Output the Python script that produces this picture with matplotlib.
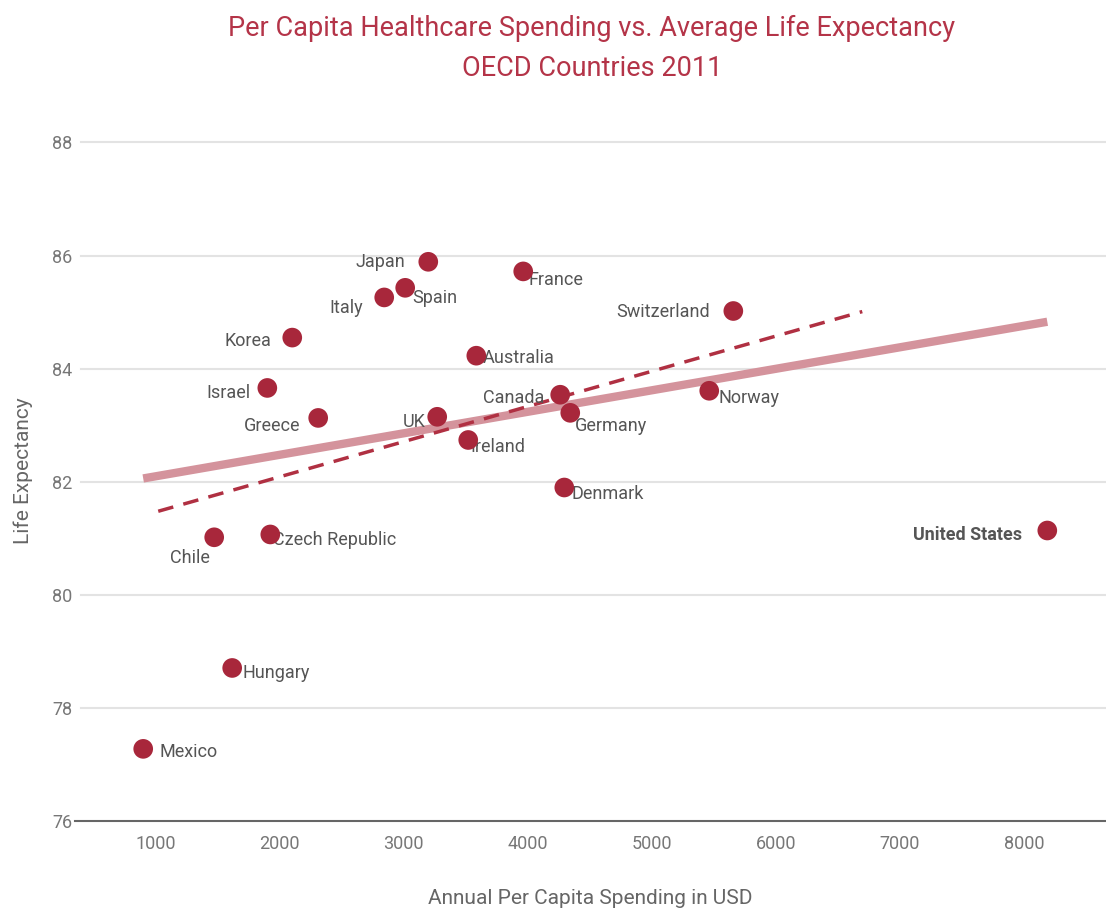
import matplotlib
matplotlib.use("Agg")
import matplotlib.pyplot as plt
from matplotlib import font_manager

# 国家与数据 (人均医疗支出 USD, 平均寿命)
countries = ["Mexico", "Chile", "Hungary", "Czech Republic", "Israel", "Korea",
             "Greece", "Italy", "Spain", "Japan", "UK", "Ireland", "Australia",
             "France", "Canada", "Germany", "Denmark", "Norway", "Switzerland",
             "United States"]
spending = [903, 1475, 1620, 1927, 1903, 2104, 2313, 2845, 3014, 3200, 3272,
            3522, 3587, 3965, 4263, 4344, 4296, 5464, 5658, 8188]
life_exp = [77.28, 81.02, 78.71, 81.07, 83.66, 84.55, 83.13, 85.26, 85.43,
            85.89, 83.15, 82.74, 84.23, 85.72, 83.54, 83.22, 81.90, 83.61,
            85.02, 81.14]

# 趋势线端点
trend_all_x = [903, 8188]
trend_all_y = [82.06, 84.83]
trend_sub_x = [1024, 6697]
trend_sub_y = [81.48, 85.01]

x_ticks = [1000, 2000, 3000, 4000, 5000, 6000, 7000, 8000]
y_ticks = [76, 78, 80, 82, 84, 86, 88]

# 标签相对点的偏移(像素)和对齐方式
label_pos = {
    "Mexico": (16, -3, "left"), "Chile": (-4, -21, "right"),
    "Hungary": (10, -5, "left"), "Czech Republic": (3, -6, "left"),
    "Israel": (-17, -5, "right"), "Korea": (-21, -3, "right"),
    "Greece": (-18, -8, "right"), "Italy": (-21, -11, "right"),
    "Spain": (7, -10, "left"), "Japan": (-23, 0, "right"),
    "UK": (-12, -5, "right"), "Ireland": (2, -7, "left"),
    "Australia": (6, -2, "left"), "France": (5, -9, "left"),
    "Canada": (-16, -3, "right"), "Germany": (5, -13, "left"),
    "Denmark": (7, -6, "left"), "Norway": (9, -7, "left"),
    "Switzerland": (-23, -1, "right"), "United States": (-25, -5, "right"),
}

installed = {f.name for f in font_manager.fontManager.ttflist}
fam = [f for f in ["Liberation Sans Narrow", "Roboto", "DejaVu Sans"] if f in installed]
plt.rcParams['font.family'] = fam

red = "#a8273b"
title_red = "#b43448"

fig = plt.figure(figsize=(11.06, 9.11), dpi=100)
ax = fig.add_axes([0.068, 0.0985, 0.932, 0.77])

# 网格线
for yv in y_ticks[1:]:
    ax.axhline(yv, color="#e3e3e3", lw=1.5, zorder=0, xmin=0.006)

# 趋势线
ax.plot(trend_all_x, trend_all_y, color="#d4939c", lw=6, solid_capstyle="butt", zorder=2)
ax.plot(trend_sub_x, trend_sub_y, color="#b03042", lw=2.5, dashes=(4.5, 3), zorder=2)

# 国家标签(在点下面)
for name, xv, yv in zip(countries, spending, life_exp):
    dx, dy, ha = label_pos[name]
    ax.annotate(name, (xv, yv), xytext=(dx, dy), textcoords="offset pixels",
                ha=ha, va="center", fontsize=13, color="#555555",
                fontweight="bold" if name == "United States" else "normal",
                zorder=3)

ax.scatter(spending, life_exp, s=200, color=red, edgecolors="none", zorder=4)

ax.set_xlim(355, 8661)
ax.set_ylim(76, 88.4)
ax.set_xticks(x_ticks)
ax.set_yticks(y_ticks)
ax.tick_params(axis="both", length=0, labelsize=13, labelcolor="#777777")
ax.tick_params(axis="x", pad=10)
ax.tick_params(axis="y", pad=2)
for s in ["top", "right", "left"]:
    ax.spines[s].set_visible(False)
ax.spines["bottom"].set_color("#666666")
ax.spines["bottom"].set_linewidth(1.5)

ax.set_xlabel("Annual Per Capita Spending in USD", fontsize=15, color="#666666", labelpad=26)
ax.set_ylabel("Life Expectancy", fontsize=15, color="#666666", labelpad=14)

fig.text(0.535, 0.969, "Per Capita Healthcare Spending vs. Average Life Expectancy",
         ha="center", va="center", fontsize=19.5, color=title_red)
fig.text(0.535, 0.925, "OECD Countries 2011", ha="center", va="center",
         fontsize=19.5, color=title_red)

fig.savefig("out.png", dpi=100)
